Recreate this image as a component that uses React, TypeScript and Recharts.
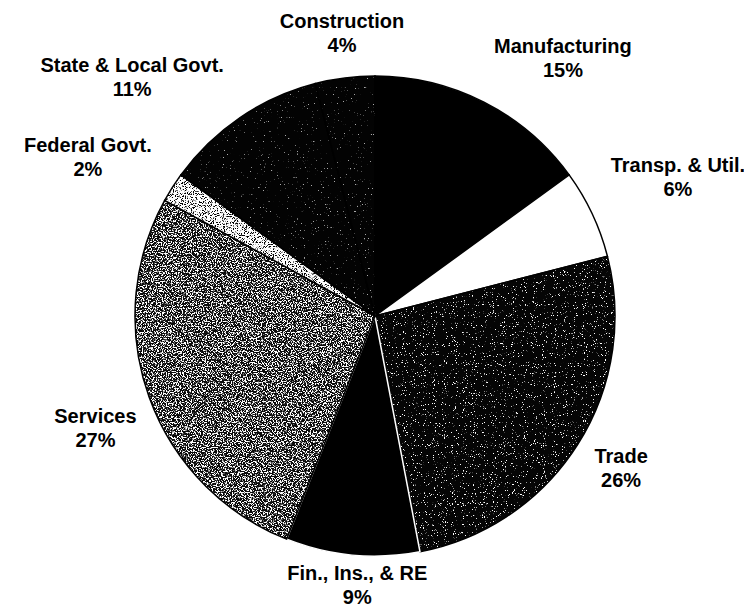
import React from "react";
import { PieChart, Pie, Cell } from "recharts";

const sectors = [
  "Manufacturing",
  "Transp. & Util.",
  "Trade",
  "Fin., Ins., & RE",
  "Services",
  "Federal Govt.",
  "State & Local Govt.",
  "Construction",
];
const shares = [15, 6, 26, 9, 27, 2, 11, 4];
const fills = [
  "#000000",
  "#ffffff",
  "url(#texTrade)",
  "#000000",
  "url(#texServices)",
  "url(#texFederal)",
  "url(#texState)",
  "url(#texState)",
];
const strokes = ["#000", "#000", "#000", "#fff", "#000", "#000", "#000", "#000"];

const data = sectors.map((name, i) => ({ name, value: shares[i] }));

// label fine-tune offsets relative to the radial default position
const labelNudge: Record<string, [number, number]> = {
  "Manufacturing": [54, 9],
  "Transp. & Util.": [36, -9],
  "Trade": [-3, -1.5],
  "Fin., Ins., & RE": [10, -20],
  "Services": [-2, 16.5],
  "Federal Govt.": [-38, 3.5],
  "State & Local Govt.": [-77, 9.5],
  "Construction": [4, 14],
};

const RAD = Math.PI / 180;

const renderLabel = (props: any) => {
  const { cx, cy, midAngle, outerRadius, name, value } = props;
  const r = outerRadius + 55;
  const [dx, dy] = labelNudge[name] || [0, 0];
  const x = cx + r * Math.cos(-midAngle * RAD) + dx;
  const y = cy + r * Math.sin(-midAngle * RAD) + dy;
  return (
    <text
      x={x}
      y={y}
      textAnchor="middle"
      fontFamily="'Liberation Sans', Arial, sans-serif"
      fontSize={20}
      fontWeight="bold"
      fill="#000"
    >
      <tspan x={x} y={y - 9.5}>{name}</tspan>
      <tspan x={x} y={y + 14.5}>{`${value}%`}</tspan>
    </text>
  );
};

const Texture = ({ id, base, dot, freq, gain, bias, seed }: any) => (
  <>
    <filter id={`f-${id}`} x="0" y="0" width="100%" height="100%">
      <feTurbulence type="fractalNoise" baseFrequency={freq} numOctaves={2} seed={seed} />
      <feColorMatrix
        type="matrix"
        values={`0 0 0 0 ${dot[0]}  0 0 0 0 ${dot[1]}  0 0 0 0 ${dot[2]}  ${gain} 0 0 0 ${bias}`}
      />
    </filter>
    <pattern id={id} patternUnits="userSpaceOnUse" x={0} y={0} width={744} height={609}>
      <rect x={0} y={0} width={744} height={609} fill={base} />
      <rect x={0} y={0} width={744} height={609} filter={`url(#f-${id})`} />
    </pattern>
  </>
);

export default function App() {
  return (
    <div style={{ position: "absolute", left: 0, top: 0, width: 744, height: 609, background: "#fff" }}>
      <svg width={0} height={0} style={{ position: "absolute" }}>
        <defs>
          <Texture id="texTrade" base="#050505" dot={[1, 1, 1]} freq={0.9} gain={14} bias={-9.3} seed={3} />
          <Texture id="texServices" base="#0a0a0a" dot={[1, 1, 1]} freq={0.8} gain={10} bias={-4.9} seed={7} />
          <Texture id="texFederal" base="#ffffff" dot={[0, 0, 0]} freq={0.9} gain={10} bias={-5.4} seed={11} />
          <Texture id="texState" base="#030303" dot={[0.4, 0.4, 0.4]} freq={0.7} gain={12} bias={-8.6} seed={5} />
        </defs>
      </svg>
      <PieChart width={744} height={609}>
        <Pie
          data={data}
          dataKey="value"
          nameKey="name"
          cx={370}
          cy={311}
          outerRadius={240}
          startAngle={90}
          endAngle={-270}
          strokeWidth={1.5}
          label={renderLabel}
          labelLine={false}
          isAnimationActive={false}
        >
          {data.map((d, i) => (
            <Cell key={d.name} fill={fills[i]} stroke={strokes[i]} />
          ))}
        </Pie>
      </PieChart>
    </div>
  );
}
